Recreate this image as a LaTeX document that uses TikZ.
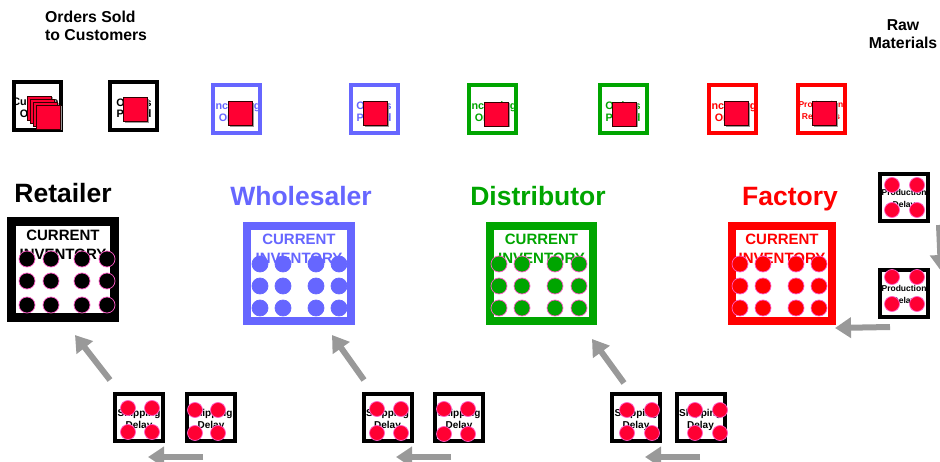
\documentclass[tikz,border=0pt]{standalone}
\usepackage{fontspec}
\setmainfont{Liberation Sans}
\usetikzlibrary{arrows.meta}
\definecolor{wblue}{RGB}{102,102,255}
\definecolor{dgreen}{RGB}{0,165,0}
\definecolor{fred}{RGB}{255,0,0}
\definecolor{chip}{RGB}{255,0,51}
\definecolor{chipedge}{RGB}{255,90,200}
\definecolor{flow}{RGB}{153,153,153}

% a red order card with a small grey shadow: name, x, y
\newcommand\ordercard[3]{%
  \node[cardshadow] (#1s) at (#2+1.5,#3+1.5) {};
  \node[ordercard] (#1) at (#2,#3) {};
}
% four red chips in a delay box: prefix, x1, x2, y1, y2
\newcommand\chips[5]{%
  \node[chipdot] (#1a) at (#2,#4) {};
  \node[chipdot] (#1b) at (#3,#4) {};
  \node[chipdot] (#1c) at (#2,#5) {};
  \node[chipdot] (#1d) at (#3,#5) {};
}

\begin{document}
\begin{tikzpicture}[x=1pt,y=-1pt,
  orderbox/.style={draw, line width=4pt, minimum width=47pt, minimum height=48pt, inner sep=0pt},
  delaybox/.style={draw, line width=4pt, minimum width=48pt, minimum height=47pt, inner sep=0pt},
  invbox/.style={draw, line width=8pt, minimum width=103pt, minimum height=95pt, inner sep=0pt},
  boxlabel/.style={font=\bfseries\fontsize{10.8}{11.5}\selectfont, align=center, inner sep=0pt},
  smalllabel/.style={font=\bfseries\fontsize{8.5}{12}\selectfont, align=center, inner sep=0pt},
  invlabel/.style={font=\bfseries\fontsize{15}{19}\selectfont, align=center, inner sep=0pt},
  stagetitle/.style={font=\bfseries\fontsize{26.5}{30}\selectfont, anchor=base, inner sep=0pt},
  header/.style={font=\bfseries\fontsize{15.8}{18}\selectfont, inner sep=0pt},
  ordercard/.style={draw=black!80!red, fill=chip, line width=0.6pt, minimum size=24pt, inner sep=0pt},
  cardshadow/.style={fill=black!40, minimum size=24pt, inner sep=0pt},
  chipdot/.style={circle, fill=chip, draw=chipedge, line width=0.7pt, minimum size=15pt, inner sep=0pt},
  stockdot/.style={circle, line width=0.7pt, minimum size=16pt, inner sep=0pt},
  flowarrow/.style={draw=flow, line width=6pt, -{Triangle[length=16pt,width=20pt]}},
]
\useasboundingbox (0,0) rectangle (940,462);
\clip (0,0) rectangle (940,462);

% headers
\node[header, align=left, anchor=north west] (sold) at (45,11) {Orders Sold\\to Customers};
\node[header, align=center, anchor=north] (raw) at (903,19) {Raw\\Materials};

% ---------- order boxes ----------
\node[orderbox] (custord) at (37.5,106) {};
\node[boxlabel] (custordt) at (37.5,108) {Customer\\Orders};
\ordercard{cca}{39}{108}
\ordercard{ccb}{42}{111}
\ordercard{ccc}{45}{114}
\ordercard{ccd}{48}{117}

\node[orderbox] (retplaced) at (133,106) {};
\node[boxlabel] (retplacedt) at (134,108) {Orders\\Placed};
\ordercard{rpc}{135}{109.5}

\node[orderbox, draw=wblue] (whin) at (236.5,109.5) {};
\node[boxlabel, text=wblue] (whint) at (236.5,111.5) {Incoming\\Orders};
\ordercard{whic}{240}{113.5}

\node[orderbox, draw=wblue] (whplaced) at (374,109.5) {};
\node[boxlabel, text=wblue] (whplacedt) at (374,111.5) {Orders\\Placed};
\ordercard{whpc}{375.5}{113.5}

\node[orderbox, draw=dgreen] (dsin) at (492.5,109.5) {};
\node[boxlabel, text=dgreen] (dsint) at (492.5,111.5) {Incoming\\Orders};
\ordercard{dsic}{496}{114}

\node[orderbox, draw=dgreen] (dsplaced) at (623,109.5) {};
\node[boxlabel, text=dgreen] (dsplacedt) at (623,111.5) {Orders\\Placed};
\ordercard{dspc}{624}{114}

\node[orderbox, draw=fred] (fcin) at (732.5,109.5) {};
\node[boxlabel, text=fred] (fcint) at (732.5,111.5) {Incoming\\Orders};
\ordercard{fcic}{736}{113.5}

\node[orderbox, draw=fred] (fcreq) at (821,109.5) {};
\node[smalllabel, text=fred] (fcreqt) at (821,111) {Production\\Requests};
\ordercard{fcrc}{824}{113.5}

% ---------- stage titles ----------
\node[stagetitle] (rettitle) at (63,203) {Retailer};
\node[stagetitle, text=wblue] (whtitle) at (301,206) {Wholesaler};
\node[stagetitle, text=dgreen] (dstitle) at (538,206) {Distributor};
\node[stagetitle, text=fred] (fctitle) at (790,206) {Factory};

% ---------- inventories ----------
\node[invbox, line width=9pt, minimum height=96pt] (retinv) at (63,269.5) {};
\node[invlabel] (retinvt) at (63,245) {CURRENT\\INVENTORY};
\foreach \c [count=\i] in {27,51,82,107}
  \foreach \r [count=\j] in {259,281,305}
    \node[stockdot, fill=black, draw=chipedge] (retstock\i\j) at (\c,\r) {};

\node[invbox, draw=wblue, minimum width=104pt] (whinv) at (299,273.5) {};
\node[invlabel, text=wblue] (whinvt) at (299,249) {CURRENT\\INVENTORY};
\foreach \c [count=\i] in {260,283,316,339}
  \foreach \r [count=\j] in {264,286,308}
    \node[stockdot, fill=wblue, draw=wblue] (whstock\i\j) at (\c,\r) {};

\node[invbox, draw=dgreen] (dsinv) at (541.5,273.5) {};
\node[invlabel, text=dgreen] (dsinvt) at (541.5,249) {CURRENT\\INVENTORY};
\foreach \c [count=\i] in {499,522,555,579}
  \foreach \r [count=\j] in {264,286,308}
    \node[stockdot, fill=dgreen, draw=chipedge] (dsstock\i\j) at (\c,\r) {};

\node[invbox, draw=fred, minimum width=100pt] (fcinv) at (782,273.5) {};
\node[invlabel, text=fred] (fcinvt) at (782,249) {CURRENT\\INVENTORY};
\foreach \c [count=\i] in {740,763,796,819}
  \foreach \r [count=\j] in {264,286,308}
    \node[stockdot, fill=fred, draw=chipedge] (fcstock\i\j) at (\c,\r) {};

% ---------- production delays ----------
\node[delaybox] (prod1) at (904,197.5) {};
\node[smalllabel] (prod1t) at (904,199) {Production\\Delay};
\chips{pda}{892}{917}{185}{210}

\node[delaybox] (prod2) at (904,294) {};
\node[smalllabel] (prod2t) at (904,295.5) {Production\\Delay};
\chips{pdb}{892}{917}{277}{304}

% ---------- shipping delays ----------
\node[delaybox] (rship1) at (139,417.5) {};
\node[boxlabel, font=\bfseries\fontsize{10}{12}\selectfont] (rship1t) at (139,420) {Shipping\\Delay};
\chips{rsa}{128}{152}{408}{432}
\node[delaybox] (rship2) at (211,417.5) {};
\node[boxlabel, font=\bfseries\fontsize{10}{12}\selectfont] (rship2t) at (211,420) {Shipping\\Delay};
\chips{rsb}{195}{218}{410}{433}

\node[delaybox] (wship1) at (387.5,417.5) {};
\node[boxlabel, font=\bfseries\fontsize{10}{12}\selectfont] (wship1t) at (387.5,420) {Shipping\\Delay};
\chips{wsa}{377}{401}{409}{433}
\node[delaybox] (wship2) at (459,417.5) {};
\node[boxlabel, font=\bfseries\fontsize{10}{12}\selectfont] (wship2t) at (459,420) {Shipping\\Delay};
\chips{wsb}{444}{468}{409}{434}

\node[delaybox] (dship1) at (636,417.5) {};
\node[boxlabel, font=\bfseries\fontsize{10}{12}\selectfont] (dship1t) at (636,420) {Shipping\\Delay};
\chips{dsa}{627}{652}{410}{433}
\node[delaybox] (dship2) at (700.5,417.5) {};
\node[boxlabel, font=\bfseries\fontsize{10}{12}\selectfont] (dship2t) at (700.5,420) {Shipping\\Delay};
\chips{dsb}{695}{720}{410}{433}

% ---------- material flow ----------
\coordinate (rawout) at (939,225);
\coordinate (rawin) at (941,271);
\coordinate (fcout) at (890,327);
\coordinate (fcin2) at (835,328);
\coordinate (rup0) at (110,380);
\coordinate (rup1) at (75,335);
\coordinate (wup0) at (364,380);
\coordinate (wup1) at (332,335);
\coordinate (dup0) at (624,383);
\coordinate (dup1) at (592,339);
\coordinate (rlow0) at (203,457);
\coordinate (rlow1) at (148,457);
\coordinate (wlow0) at (451,457);
\coordinate (wlow1) at (396,457);
\coordinate (dlow0) at (700,457);
\coordinate (dlow1) at (645,457);

\draw[flowarrow] (rawout) -- (rawin);
\draw[flowarrow] (fcout) -- (fcin2);
\draw[flowarrow] (rup0) -- (rup1);
\draw[flowarrow] (wup0) -- (wup1);
\draw[flowarrow] (dup0) -- (dup1);
\draw[flowarrow] (rlow0) -- (rlow1);
\draw[flowarrow] (wlow0) -- (wlow1);
\draw[flowarrow] (dlow0) -- (dlow1);
\end{tikzpicture}
\end{document}
